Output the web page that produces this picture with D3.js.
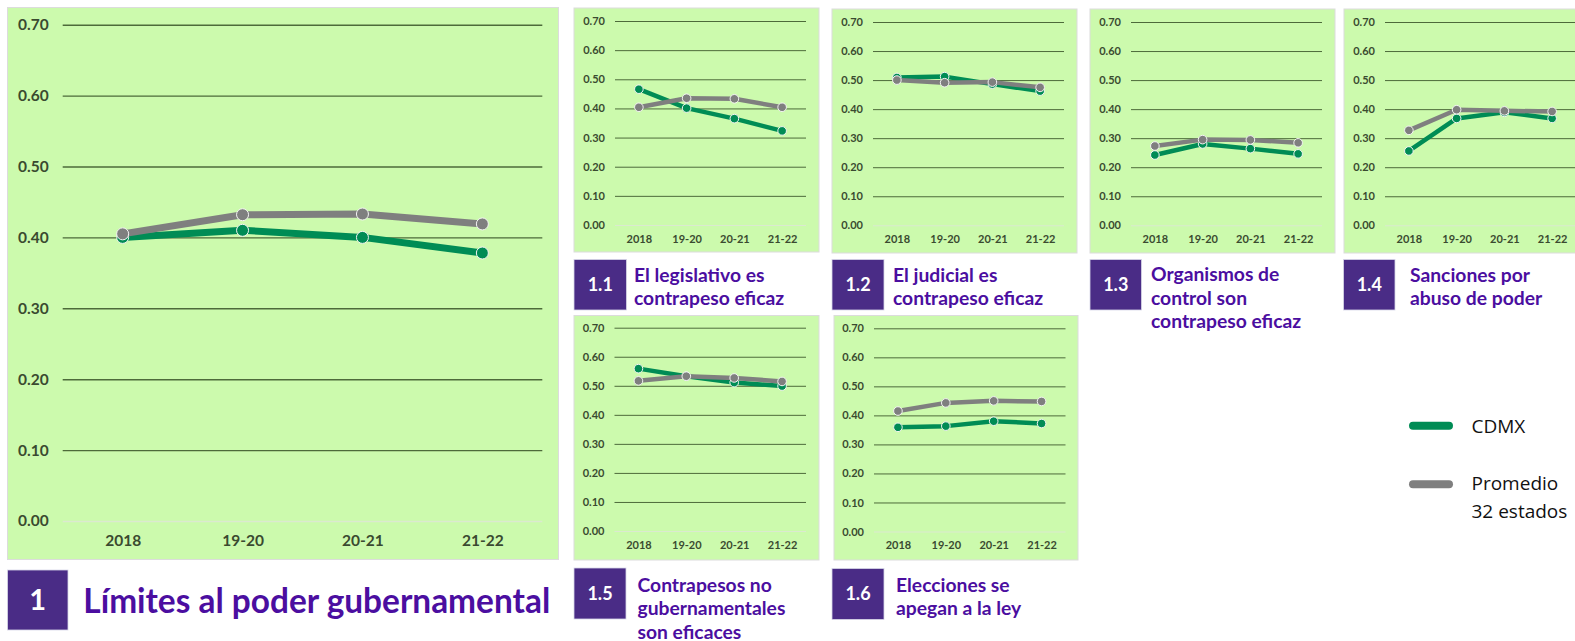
<!DOCTYPE html>
<html><head><meta charset="utf-8">
<script src="https://cdn.jsdelivr.net/npm/d3@7"></script>
<style>
html,body{margin:0;padding:0;background:#fff;}
svg{display:block;font-family:Lato,"Open Sans",sans-serif;}
</style></head>
<body>
<svg id="c" width="1575" height="641"></svg>
<script>
// ---- data ----
const periods = ["2018", "19-20", "20-21", "21-22"];
const yTicks = [0, 0.1, 0.2, 0.3, 0.4, 0.5, 0.6, 0.7];
const seriesNames = ["CDMX", "Promedio 32 estados"];

const cdmx1   = [0.400, 0.410, 0.400, 0.378];
const avg1    = [0.405, 0.432, 0.433, 0.419];
const cdmx11  = [0.466, 0.401, 0.365, 0.323];
const avg11   = [0.404, 0.435, 0.433, 0.404];
const cdmx12  = [0.509, 0.512, 0.486, 0.462];
const avg12   = [0.500, 0.491, 0.493, 0.475];
const cdmx13  = [0.242, 0.280, 0.264, 0.246];
const avg13   = [0.273, 0.295, 0.294, 0.284];
const cdmx14  = [0.256, 0.368, 0.389, 0.368];
const avg14   = [0.327, 0.398, 0.394, 0.392];
const cdmx15  = [0.559, 0.533, 0.511, 0.499];
const avg15   = [0.517, 0.533, 0.527, 0.515];
const cdmx16  = [0.359, 0.363, 0.380, 0.372];
const avg16   = [0.415, 0.443, 0.450, 0.448];

const codes  = ["1", "1.1", "1.2", "1.3", "1.4", "1.5", "1.6"];
const titles = [
  ["Límites al poder gubernamental"],
  ["El legislativo es", "contrapeso eficaz"],
  ["El judicial es", "contrapeso eficaz"],
  ["Organismos de", "control son", "contrapeso eficaz"],
  ["Sanciones por", "abuso de poder"],
  ["Contrapesos no", "gubernamentales", "son eficaces"],
  ["Elecciones se", "apegan a la ley"]
];

// ---- styles ----
const GREEN = "#008c55", GREY = "#7f7f7f", PANEL = "#ccfaad", GRID = "#4d6a3a",
      TICK = "#3a4a30", BOX = "#4a2c86", TITLE = "#4b0ea0";

const svg = d3.select("#c");

function drawChart(cfg, cd, av) {
  const g = svg.append("g");
  g.append("rect").attr("x", cfg.px).attr("y", cfg.py).attr("width", cfg.pw).attr("height", cfg.ph)
    .attr("fill", PANEL).attr("stroke", "#dcdcdc").attr("stroke-width", 1);
  const x = d3.scalePoint().domain(periods).range([cfg.gx0, cfg.gx1]).padding(0.5);
  const y = d3.scaleLinear().domain([0, 0.7]).range([cfg.y0, cfg.y7]);
  const ya = g.append("g").attr("transform", `translate(${cfg.gx0},0)`)
    .call(d3.axisLeft(y).tickValues(yTicks).tickFormat(d3.format(".2f")).tickSize(-(cfg.gx1 - cfg.gx0)).tickPadding(cfg.tp));
  ya.select(".domain").remove();
  ya.selectAll(".tick line").attr("stroke", d => d === 0 ? "#dbe9d0" : GRID).attr("stroke-width", cfg.gw);
  ya.selectAll(".tick text").attr("fill", TICK).attr("font-size", cfg.fs).attr("font-weight", 700).attr("font-family", "Lato");
  const xa = g.append("g").attr("transform", `translate(0,${cfg.y0})`)
    .call(d3.axisBottom(x).tickSize(0).tickPadding(cfg.xp));
  xa.select(".domain").remove();
  xa.selectAll(".tick text").attr("fill", TICK).attr("font-size", cfg.fs).attr("font-weight", 700).attr("font-family", "Lato");

  const line = d3.line().x((d, i) => x(periods[i])).y(d => y(d));
  [[cd, GREEN], [av, GREY]].forEach(([vals, col]) => {
    g.append("path").datum(vals).attr("d", line).attr("fill", "none").attr("stroke", col)
      .attr("stroke-width", cfg.lw).attr("stroke-linejoin", "round");
    g.selectAll(null).data(vals).enter().append("circle")
      .attr("cx", (d, i) => x(periods[i])).attr("cy", d => y(d)).attr("r", cfg.r)
      .attr("fill", col).attr("stroke", "#f4f4f4").attr("stroke-width", 1);
  });
}

function drawLabel(L, idx) {
  svg.append("rect").attr("x", L.bx).attr("y", L.by).attr("width", L.bw).attr("height", L.bh)
    .attr("fill", BOX).attr("stroke", "#d8d8e8").attr("stroke-width", 0.8);
  svg.append("text").attr("x", L.bx + L.bw / 2).attr("y", L.by + L.bh / 2).attr("dy", "0.36em")
    .attr("text-anchor", "middle").attr("fill", "#fff").attr("font-weight", 700)
    .attr("font-size", L.nfs).text(codes[idx]);
  const t = svg.append("text").attr("fill", TITLE).attr("font-weight", 700).attr("font-size", L.tfs);
  titles[idx].forEach((s, i) => t.append("tspan").attr("x", L.tx).attr("y", L.ty + i * L.lh).text(s));
}

const big = {fs: 15.5, tp: 14, xp: 14, gw: 1.4, lw: 7, r: 6};
const small = {fs: 11, tp: 10, xp: 10, gw: 1, lw: 4.5, r: 4.3};

const charts = [
  Object.assign({px: 7.5, py: 7.5, pw: 551, ph: 552, gx0: 62.7, gx1: 542.3, y0: 521, y7: 24.7}, big),
  Object.assign({px: 574, py: 8, pw: 245, ph: 244, gx0: 615, gx1: 806, y0: 225, y7: 21}, small),
  Object.assign({px: 832, py: 9, pw: 245, ph: 244, gx0: 873, gx1: 1064, y0: 225.3, y7: 22}, small),
  Object.assign({px: 1090, py: 9, pw: 245, ph: 244, gx0: 1131, gx1: 1322, y0: 225.3, y7: 22}, small),
  Object.assign({px: 1344, py: 9, pw: 250, ph: 244, gx0: 1385, gx1: 1576, y0: 225.3, y7: 22}, small),
  Object.assign({px: 574, py: 315.5, pw: 245, ph: 244.5, gx0: 614.5, gx1: 806, y0: 531, y7: 327.7}, small),
  Object.assign({px: 834, py: 315.5, pw: 244, ph: 244.5, gx0: 874, gx1: 1065.5, y0: 531.5, y7: 328.3}, small)
];
const data = [[cdmx1, avg1], [cdmx11, avg11], [cdmx12, avg12], [cdmx13, avg13], [cdmx14, avg14], [cdmx15, avg15], [cdmx16, avg16]];
charts.forEach((c, i) => drawChart(c, data[i][0], data[i][1]));

const labels = [
  {bx: 7.5, by: 570, bw: 60.5, bh: 60, nfs: 29, tx: 83.3, ty: 613, lh: 0, tfs: 33.4},
  {bx: 574, by: 259.5, bw: 52.5, bh: 50.5, nfs: 18, tx: 634, ty: 281.5, lh: 23.5, tfs: 19.3},
  {bx: 832, by: 259.5, bw: 52, bh: 50.5, nfs: 18, tx: 893, ty: 281.5, lh: 23.5, tfs: 19.3},
  {bx: 1090, by: 259.5, bw: 51.5, bh: 50.5, nfs: 18, tx: 1151, ty: 281, lh: 23.5, tfs: 19.3},
  {bx: 1343.5, by: 259.5, bw: 51.5, bh: 50.5, nfs: 18, tx: 1410, ty: 281.5, lh: 23.5, tfs: 19.3},
  {bx: 574, by: 568, bw: 52, bh: 51, nfs: 18, tx: 637.5, ty: 591.5, lh: 23.5, tfs: 19.3},
  {bx: 832, by: 568.5, bw: 52, bh: 51, nfs: 18, tx: 896, ty: 591.5, lh: 23.5, tfs: 19.3}
];
labels.forEach((L, i) => drawLabel(L, i));

// legend
const legend = [
  {col: GREEN, ly: 425.7, ty: 433},
  {col: GREY, ly: 484.3, ty: 490}
];
legend.forEach((d, k) => {
  svg.append("line").attr("x1", 1413).attr("x2", 1449).attr("y1", d.ly).attr("y2", d.ly)
    .attr("stroke", d.col).attr("stroke-width", 8).attr("stroke-linecap", "round");
  const t = svg.append("text").attr("fill", "#111").attr("font-size", 19).attr("font-family", "'Open Sans', sans-serif");
  (k === 0 ? ["CDMX"] : ["Promedio", "32 estados"]).forEach((s, i) =>
    t.append("tspan").attr("x", 1471.5).attr("y", d.ty + i * 28.3).text(s));
});
</script>
</body></html>
